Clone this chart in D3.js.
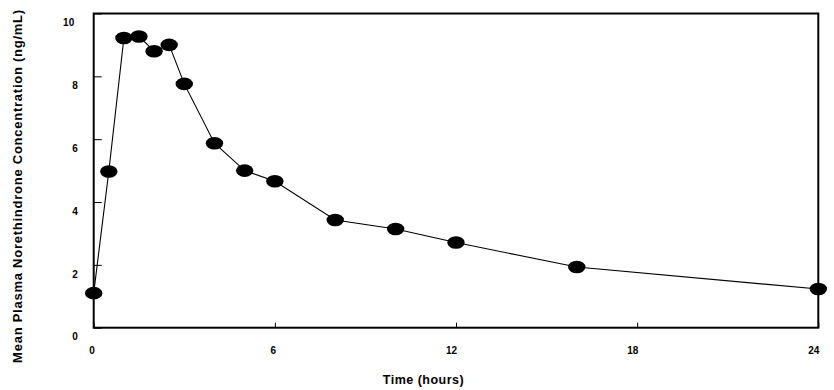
<!DOCTYPE html>
<html>
<head>
<meta charset="utf-8">
<script src="https://cdn.jsdelivr.net/npm/d3@7"></script>
<style>
  body { margin: 0; background: #fff; }
  svg { display: block; }
  text { font-family: "Liberation Sans", Arial, "Helvetica", sans-serif; font-weight: bold; fill: #000; }
</style>
</head>
<body>
<svg id="chart" width="834" height="390"></svg>
<script>
const timeHours = [0, 0.5, 1, 1.5, 2, 2.5, 3, 4, 5, 6, 8, 10, 12, 16, 24];
const concentration = [1.1, 4.97, 9.22, 9.27, 8.8, 9.0, 7.76, 5.87, 5.0, 4.66, 3.43, 3.14, 2.71, 1.93, 1.23];
const xTicks = [0, 6, 12, 18, 24];
const yTicks = [0, 2, 4, 6, 8, 10];
const xTitle = "Time (hours)";
const yTitle = "Mean Plasma Norethindrone Concentration (ng/mL)";

const svg = d3.select("#chart");
const plotLeft = 93.7, plotRight = 818.3, plotTop = 13.5, plotBottom = 327.7;

const x = d3.scaleLinear().domain([0, 24]).range([plotLeft, plotRight]);
const y = d3.scaleLinear().domain([0, 10]).range([plotBottom, plotTop]);

// frame
svg.append("rect")
  .attr("x", plotLeft).attr("y", plotTop)
  .attr("width", plotRight - plotLeft).attr("height", plotBottom - plotTop)
  .attr("fill", "none").attr("stroke", "#000").attr("stroke-width", 2);

// y axis ticks (inward)
const yAxis = d3.axisLeft(y).tickValues(yTicks).tickSize(-8).tickPadding(0).tickFormat(d3.format("d"));
const gy = svg.append("g").attr("transform", `translate(${plotLeft},0)`).call(yAxis);
gy.select(".domain").remove();
gy.selectAll(".tick line").attr("stroke", "#000").attr("stroke-width", 1);
gy.selectAll(".tick text")
  .attr("x", d => String(d).length > 1 ? -19.5 : -15.8)
  .attr("y", 12.3).attr("dy", null)
  .style("font-size", "10px")
  .style("font-family", "'Liberation Sans', Arial, sans-serif")
  .attr("text-anchor", "end");

// x axis ticks (inward)
const xAxis = d3.axisBottom(x).tickValues(xTicks).tickSize(-5).tickPadding(0).tickFormat(d3.format("d"));
const gx = svg.append("g").attr("transform", `translate(0,${plotBottom})`).call(xAxis);
gx.select(".domain").remove();
gx.selectAll(".tick line").attr("stroke", "#000").attr("stroke-width", 1);
gx.selectAll(".tick text")
  .attr("y", 26).attr("dy", null)
  .attr("x", 0.6)
  .attr("text-anchor", "end")
  .style("font-size", "10px")
  .style("font-family", "'Liberation Sans', Arial, sans-serif");

// line
const line = d3.line().x((d, i) => x(timeHours[i])).y(d => y(d));
svg.append("path")
  .datum(concentration)
  .attr("d", line)
  .attr("fill", "none").attr("stroke", "#000").attr("stroke-width", 1.1);

// markers
svg.selectAll("ellipse.pt")
  .data(concentration)
  .join("ellipse")
  .attr("class", "pt")
  .attr("cx", (d, i) => x(timeHours[i]))
  .attr("cy", d => y(d))
  .attr("rx", 8.7).attr("ry", 6.3)
  .attr("fill", "#000");

// titles
svg.append("text")
  .attr("x", 423.5).attr("y", 383.5)
  .attr("text-anchor", "middle")
  .style("font-size", "12.5px")
  .style("letter-spacing", "0.5px")
  .text(xTitle);

svg.append("text")
  .attr("transform", "translate(21.5,186) rotate(-90)")
  .attr("text-anchor", "middle")
  .style("font-size", "13px")
  .style("letter-spacing", "0.75px")
  .text(yTitle);
</script>
</body>
</html>
